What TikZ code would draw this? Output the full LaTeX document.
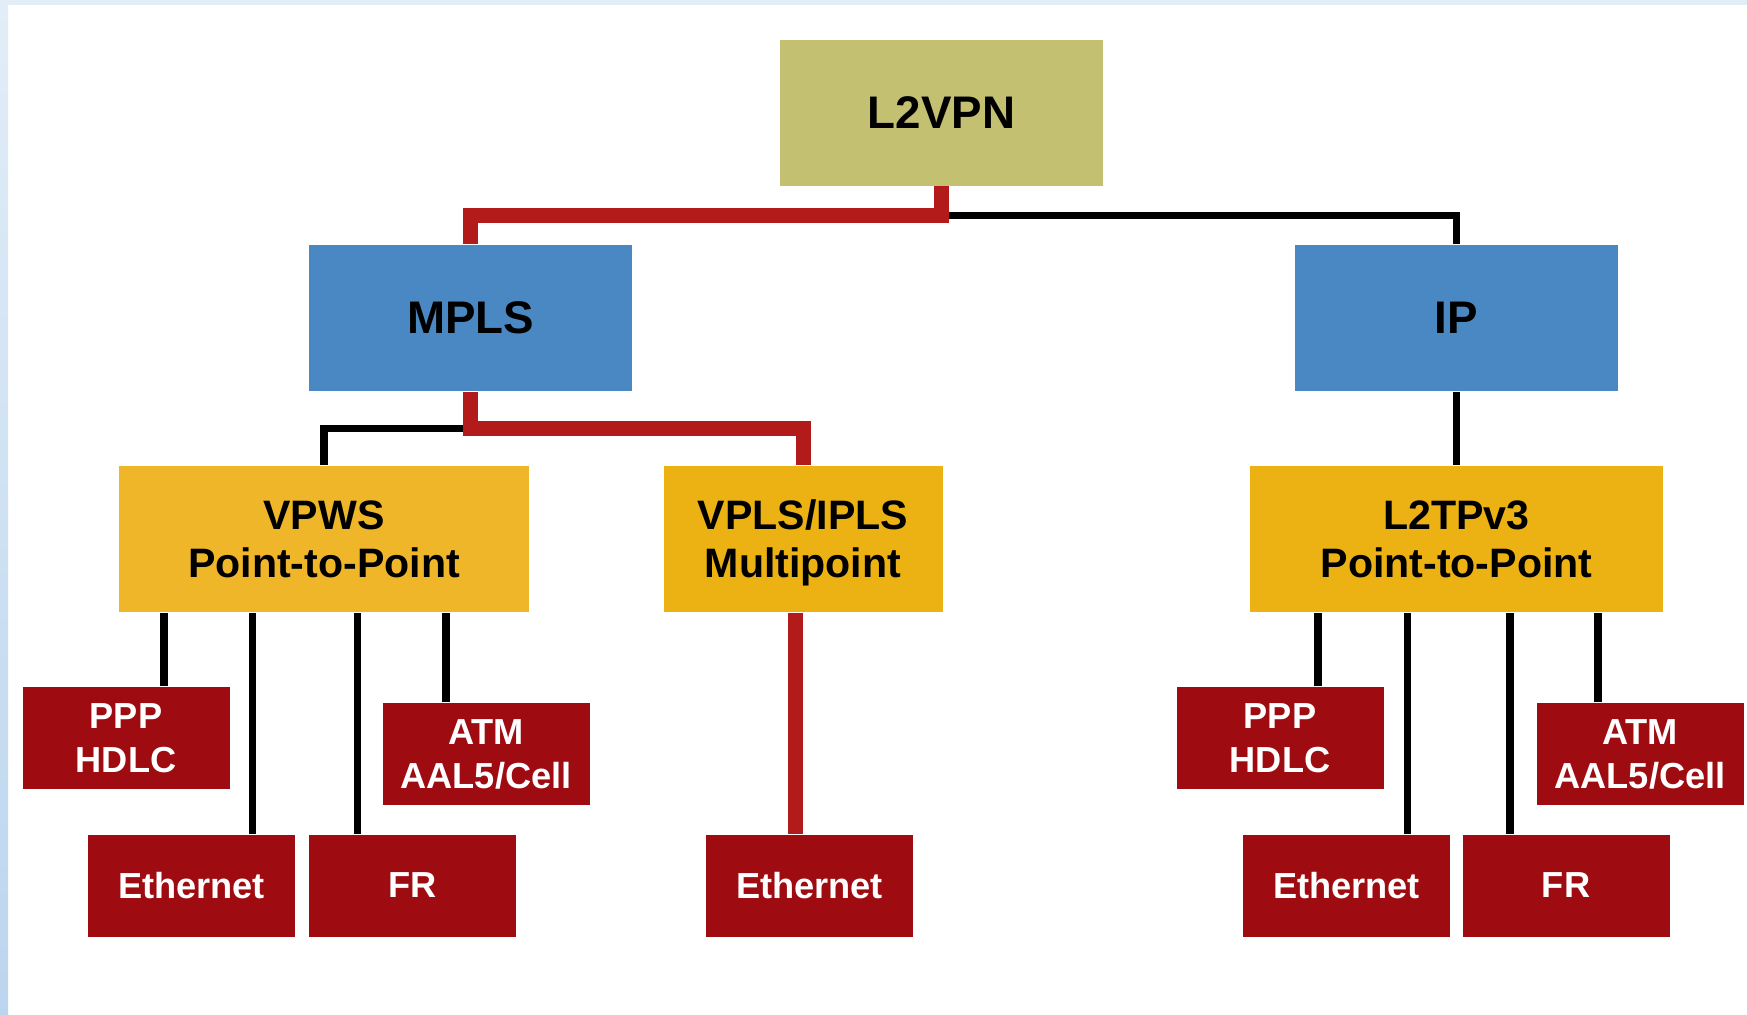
\documentclass[tikz,border=0pt]{standalone}
\usepackage{fontspec}
\setmainfont{Liberation Sans}
\usetikzlibrary{calc}

\definecolor{rootfill}{HTML}{C3C072}
\definecolor{transblue}{HTML}{4A88C4}
\definecolor{goldA}{HTML}{EFB62A}
\definecolor{goldB}{HTML}{ECB112}
\definecolor{leafred}{HTML}{9E0C12}
\definecolor{hotred}{HTML}{B31B1B}
\definecolor{framelight}{HTML}{E2EDF7}
\definecolor{framedark}{HTML}{BCD5EE}

\begin{document}
\begin{tikzpicture}[x=0.1mm,y=-0.1mm,
    box/.style={rectangle,inner sep=0pt,align=center},
    toplvl/.style={box,minimum width=32.3mm,minimum height=14.6mm,font=\fontsize{13}{15}\selectfont\bfseries},
    midlvl/.style={box,text depth=0pt,minimum height=14.6mm,font=\fontsize{11.7}{13.7}\selectfont\bfseries},
    leaf/.style={box,fill=leafred,text=white,minimum width=20.7mm,minimum height=10.2mm,font=\fontsize{10.3}{12.5}\selectfont\bfseries},
    blk/.style={draw=black,line width=0.75mm},
    hot/.style={draw=hotred,line width=1.5mm}]
    \useasboundingbox (0,0) rectangle (1747,1014);
    % page frame
    \fill[white] (0,0) rectangle (1747,1014);
    \fill[framelight] (0,0) rectangle (1747,5);
    \shade[top color=framelight,bottom color=framedark] (0,0) rectangle (8,1014);

    % tree
    \node[toplvl,fill=rootfill] (l2vpn) at (941.5,112.5) {L2VPN};
    \node[toplvl,fill=transblue] (mpls) at (470.5,318) {MPLS};
    \node[toplvl,fill=transblue] (ip) at (1456.5,318) {IP};
    \node[midlvl,fill=goldA,minimum width=41mm] (vpws) at (324,539) {VPWS\\Point-to-Point};
    \node[midlvl,fill=goldB,minimum width=27.9mm] (vpls) at (803,539) {VPLS/IPLS\\Multipoint};
    \node[midlvl,fill=goldB,minimum width=41.3mm] (l2tp) at (1456.5,539) {L2TPv3\\Point-to-Point};

    \node[leaf] (pppL) at (126,738) {PPP\\HDLC};
    \node[leaf] (atmL) at (486,754) {ATM\\AAL5/Cell};
    \node[leaf] (ethL) at (191.5,885.5) {Ethernet};
    \node[leaf] (frL) at (412.5,885.5) {FR};
    \node[leaf] (ethM) at (809.5,885.5) {Ethernet};
    \node[leaf] (pppR) at (1280,738) {PPP\\HDLC};
    \node[leaf] (atmR) at (1640,754) {ATM\\AAL5/Cell};
    \node[leaf] (ethR) at (1346.5,885.5) {Ethernet};
    \node[leaf] (frR) at (1566,885.5) {FR};

    \coordinate (j1) at ($(l2vpn.south)!0.5!(mpls.north)$);
    \coordinate (j2) at ($(mpls.south)!0.5!(vpws.north)$);

    % black links first, red path on top
    \draw[blk] (l2vpn.south) |- (j1 -| ip.north) -- (ip.north);
    \draw[blk] (mpls.south) |- (j2 -| vpws.north) -- (vpws.north);
    \draw[blk] (ip) -- (l2tp);
    \foreach \kid/\dx in {pppL/3.8mm, ethL/6.1mm, frL/-5.5mm, atmL/-4mm}
        \draw[blk] ([xshift=\dx]\kid.north) -- ([xshift=\dx]\kid.north |- vpws.south);
    \foreach \kid/\dx in {pppR/3.8mm, ethR/6.1mm, frR/-5.6mm, atmR/-4.2mm}
        \draw[blk] ([xshift=\dx]\kid.north) -- ([xshift=\dx]\kid.north |- l2tp.south);

    \draw[hot] (l2vpn.south) |- (j1 -| mpls.north) -- (mpls.north);
    \draw[hot] (mpls.south) |- (j2 -| vpls.north) -- (vpls.north);
    \draw[hot] ([xshift=-1.45mm]ethM.north) -- ([xshift=-1.45mm]ethM.north |- vpls.south);
\end{tikzpicture}
\end{document}
